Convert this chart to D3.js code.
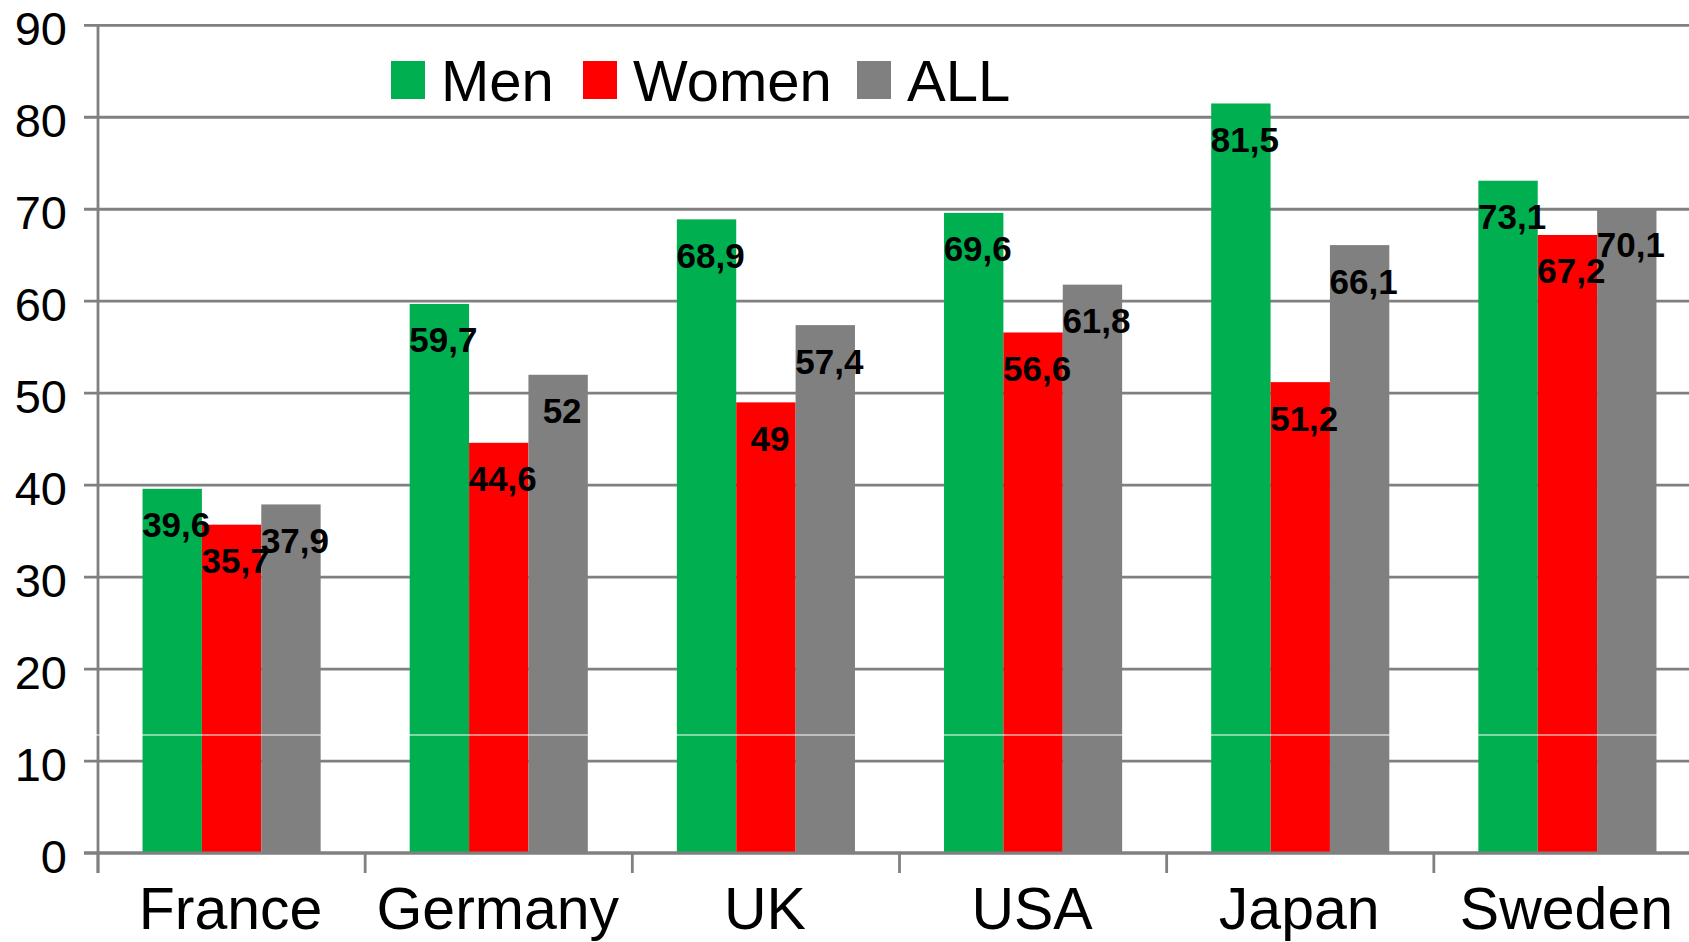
<!DOCTYPE html>
<html>
<head>
<meta charset="utf-8">
<script src="https://cdn.jsdelivr.net/npm/d3@7"></script>
<style>
  html, body { margin: 0; padding: 0; background: #fff; overflow: hidden; }
  text { font-family: "Liberation Sans", Arial, sans-serif; }
</style>
</head>
<body>
<svg id="chart" width="1689" height="942"></svg>
<script>
// data
var countries = ["France", "Germany", "UK", "USA", "Japan", "Sweden"];
var series = ["Men", "Women", "ALL"];
var men   = [39.6, 59.7, 68.9, 69.6, 81.5, 73.1];
var women = [35.7, 44.6, 49, 56.6, 51.2, 67.2];
var all   = [37.9, 52, 57.4, 61.8, 66.1, 70.1];
var yTicks = [0, 10, 20, 30, 40, 50, 60, 70, 80, 90];
var colors = ["#00B050", "#FF0000", "#808080"];

var values = [men, women, all];

var svg = d3.select("#chart"),
    gridColor = "#808080";

var x0 = d3.scaleBand()
    .domain(countries)
    .range([98, 1701])
    .padding(0);

var x1 = d3.scaleBand()
    .domain(series)
    .range([0, x0.bandwidth()])
    .paddingInner(0)
    .paddingOuter(0.75);

var y = d3.scaleLinear()
    .domain([0, 90])
    .range([853, 25.3]);

var fmt = function(v) { return String(v).replace(".", ","); };

// gridlines + y tick marks
svg.append("g")
    .selectAll("line")
    .data(yTicks)
    .enter().append("line")
      .attr("x1", 84)
      .attr("x2", 1689)
      .attr("y1", function(d) { return y(d); })
      .attr("y2", function(d) { return y(d); })
      .attr("stroke", gridColor)
      .attr("stroke-width", 2.8);

// bars
var group = svg.append("g")
    .selectAll("g")
    .data(countries)
    .enter().append("g")
      .attr("transform", function(d) { return "translate(" + x0(d) + ",0)"; });

group.selectAll("rect")
    .data(function(c, i) {
      return series.map(function(s, j) { return { s: s, j: j, v: values[j][i] }; });
    })
    .enter().append("rect")
      .attr("x", function(d) { return x1(d.s); })
      .attr("width", x1.bandwidth())
      .attr("y", function(d) { return y(d.v); })
      .attr("height", function(d) { return y(0) - y(d.v); })
      .attr("fill", function(d) { return colors[d.j]; });

// y axis line
svg.append("line")
    .attr("x1", 98).attr("x2", 98)
    .attr("y1", y(90)).attr("y2", 873)
    .attr("stroke", gridColor)
    .attr("stroke-width", 2.8);

// x axis line + ticks
svg.append("line")
    .attr("x1", 84).attr("x2", 1689)
    .attr("y1", y(0)).attr("y2", y(0))
    .attr("stroke", gridColor)
    .attr("stroke-width", 2.8);

svg.append("g")
    .selectAll("line")
    .data(countries)
    .enter().append("line")
      .attr("x1", function(d) { return x0(d); })
      .attr("x2", function(d) { return x0(d); })
      .attr("y1", y(0))
      .attr("y2", 873)
      .attr("stroke", gridColor)
      .attr("stroke-width", 2.8);

// y tick labels
svg.append("g")
    .selectAll("text")
    .data(yTicks)
    .enter().append("text")
      .attr("x", 67)
      .attr("y", function(d) { return y(d) + 19.5; })
      .attr("text-anchor", "end")
      .attr("font-size", 47)
      .attr("fill", "#000")
      .text(function(d) { return d; });

// x labels
svg.append("g")
    .selectAll("text")
    .data(countries)
    .enter().append("text")
      .attr("x", function(d) { return x0(d) + x0.bandwidth() / 2 - 1; })
      .attr("y", 929)
      .attr("text-anchor", "middle")
      .attr("font-size", 59)
      .attr("fill", "#000")
      .text(function(d) { return d; });

// value labels
group.selectAll("text")
    .data(function(c, i) {
      return series.map(function(s, j) { return { s: s, j: j, v: values[j][i] }; });
    })
    .enter().append("text")
      .attr("x", function(d) { return x1(d.s) + x1.bandwidth() / 2 + 4; })
      .attr("y", function(d) { return y(d.v) + 48.5; })
      .attr("text-anchor", "middle")
      .attr("font-size", 35)
      .attr("font-weight", "bold")
      .attr("fill", "#000")
      .text(function(d) { return fmt(d.v); });

// legend
var legendX = [391, 583, 857];
var legend = svg.append("g")
    .selectAll("g")
    .data(series)
    .enter().append("g")
      .attr("transform", function(d, i) { return "translate(" + legendX[i] + ",0)"; });

legend.append("rect")
    .attr("x", 0)
    .attr("y", 61)
    .attr("width", 34)
    .attr("height", 38)
    .attr("fill", function(d, i) { return colors[i]; });

legend.append("text")
    .attr("x", 50)
    .attr("y", 101)
    .attr("font-size", 58)
    .attr("fill", "#000")
    .text(function(d) { return d; });

// thin white scan line across the plot, as in the source image
svg.append("line")
    .attr("x1", 95).attr("x2", 1689)
    .attr("y1", y(12.83)).attr("y2", y(12.83))
    .attr("stroke", "#fff")
    .attr("stroke-width", 1.2);
</script>
</body>
</html>
